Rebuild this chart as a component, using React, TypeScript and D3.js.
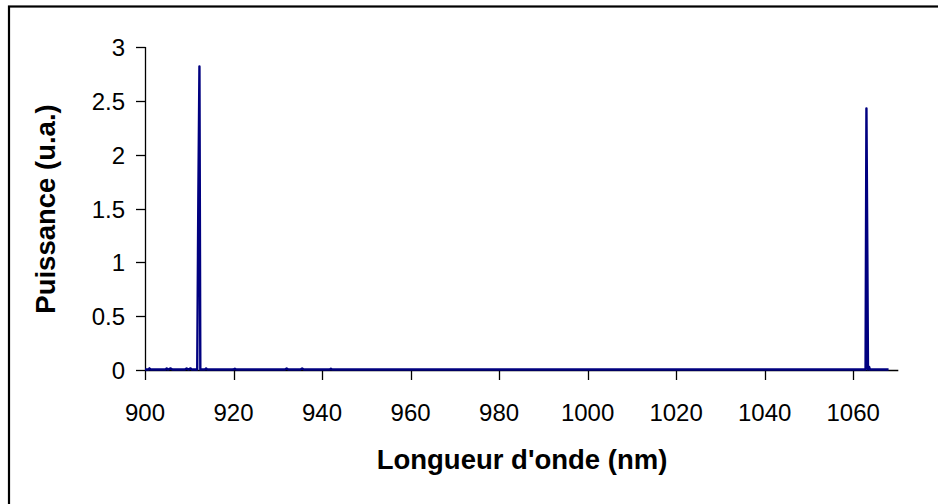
import React from "react";
import * as d3 from "d3";

const wavelengths = [
  900.0, 900.8, 901.0, 901.3, 904.6, 904.9, 905.2, 905.8, 906.2, 906.6,
  909.0, 909.4, 909.8, 910.3, 910.6, 911.0, 911.8, 912.05, 912.3, 912.5,
  912.8, 913.5, 913.8, 914.1, 919.9, 920.3, 920.6, 931.6, 932.0, 932.4,
  935.1, 935.5, 935.9, 941.7, 942.0, 942.3, 1062.8, 1063.0, 1063.2, 1063.35,
  1063.6, 1063.8, 1068.0,
];
const powers = [
  0.004, 0.004, 0.015, 0.004, 0.004, 0.015, 0.004, 0.015, 0.004, 0.004,
  0.004, 0.015, 0.004, 0.015, 0.004, 0.004, 0.004, 1.6, 2.82, 0.004,
  0.004, 0.004, 0.015, 0.004, 0.004, 0.012, 0.004, 0.004, 0.014, 0.004,
  0.004, 0.014, 0.004, 0.004, 0.012, 0.004, 0.004, 2.43, 1.1, 0.004,
  0.03, 0.004, 0.004,
];
const xTicks = [900, 920, 940, 960, 980, 1000, 1020, 1040, 1060];
const yTicks = [0, 0.5, 1, 1.5, 2, 2.5, 3];
const xTitle = "Longueur d'onde (nm)";
const yTitle = "Puissance (u.a.)";

export default function App() {
  const W = 938, H = 504;
  const x = d3.scaleLinear().domain([900, 1070.2]).range([145, 898.3]);
  const y = d3.scaleLinear().domain([0, 3]).range([370, 47]);
  const pts = wavelengths.map((w, i) => [w, powers[i]] as [number, number]);
  const line = d3.line<[number, number]>().x(d => x(d[0])).y(d => y(d[1]));
  const font = "'Liberation Sans', Arial, sans-serif";
  return (
    <svg width={W} height={H} style={{ position: "absolute", left: 0, top: 0, background: "#fff" }}
      fontFamily={font}>
      <rect x={0} y={0} width={W} height={H} fill="#fff" />
      <rect x={9} y={6.5} width={W + 10} height={H + 10} fill="none" stroke="#000" strokeWidth={2.2} />
      {/* y axis */}
      <line x1={145.5} x2={145.5} y1={y(3)} y2={y(0)} stroke="#000" strokeWidth={1.3} />
      {yTicks.map(t => (
        <g key={t}>
          <line x1={136} x2={145.5} y1={Math.round(y(t)) + 0.5} y2={Math.round(y(t)) + 0.5} stroke="#000" strokeWidth={1.3} />
          <text x={125} y={y(t) + 9} textAnchor="end" fontSize={24} fill="#000">{t}</text>
        </g>
      ))}
      {/* x axis */}
      <line x1={x(900)} x2={x(1070.2)} y1={370.5} y2={370.5} stroke="#000" strokeWidth={1.3} />
      {xTicks.map(t => (
        <g key={t}>
          <line x1={Math.round(x(t)) + 0.5} x2={Math.round(x(t)) + 0.5} y1={370.5} y2={380} stroke="#000" strokeWidth={1.3} />
          <text x={x(t)} y={421} textAnchor="middle" fontSize={24} fill="#000">{t}</text>
        </g>
      ))}
      <path d={line(pts) || ""} fill="none" stroke="#000080" strokeWidth={2.4} strokeLinejoin="round" />
      <text x={522} y={469} textAnchor="middle" fontSize={27.5} fontWeight="bold" fill="#000">{xTitle}</text>
      <text transform="translate(55,209) rotate(-90)" textAnchor="middle" fontSize={27.5} fontWeight="bold" fill="#000">{yTitle}</text>
    </svg>
  );
}
